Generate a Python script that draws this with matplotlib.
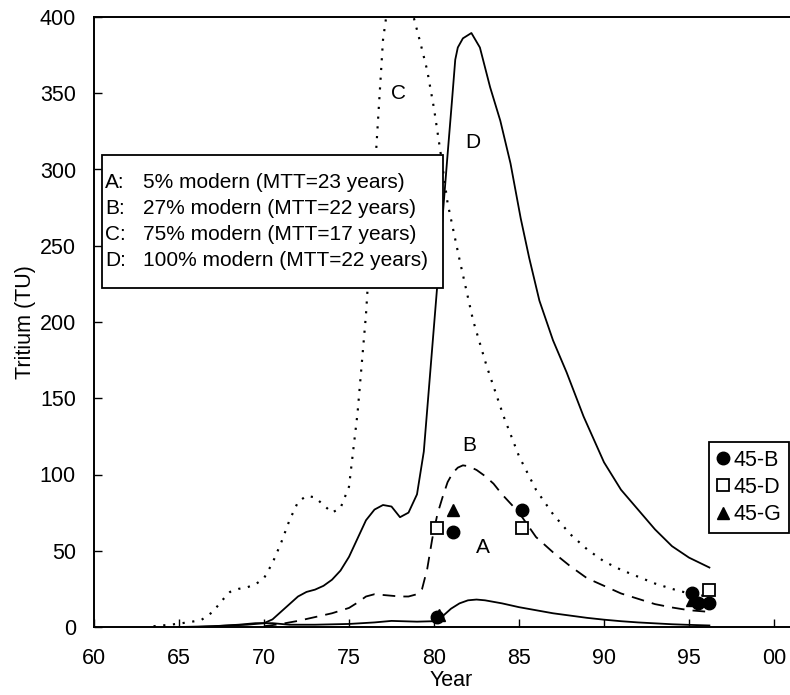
import matplotlib
matplotlib.use("Agg")
import matplotlib.pyplot as plt
from matplotlib.lines import Line2D
from matplotlib.patches import Rectangle

plt.rcParams['font.family'] = ['Liberation Sans', 'DejaVu Sans']

# Curve A: 5% modern (MTT=23 years)
a_years = [65, 67, 68.5, 69.5, 70.5, 71.5, 73, 75, 76.5, 77.5, 79, 80, 80.5, 81, 81.5, 82, 82.5,
           83, 84, 85, 86, 87, 88, 89, 90, 91, 92, 93, 94, 95, 96.2]
a_vals = [0, 0.5, 1.5, 2.5, 2.5, 1.5, 1.5, 2, 3, 4, 3.5, 3.8, 7, 12, 15.5, 17.5, 18,
          17.5, 15.5, 13, 11, 9, 7.5, 6, 4.8, 3.8, 3, 2.4, 1.8, 1.4, 1]

# Curve B: 27% modern (MTT=22 years)
b_years = [70, 71, 72, 73, 74, 75, 75.5, 76, 76.5, 77, 77.5, 78, 78.5, 79, 79.3, 79.6, 79.9,
           80.2, 80.5, 80.8, 81.1, 81.4, 81.7, 82, 82.5, 83, 83.5, 84, 84.5, 85, 86, 87, 88,
           89, 90, 91, 92, 93, 94, 95, 96.1]
b_vals = [0.5, 2, 4, 6.5, 9, 12.5, 16, 20, 21.5, 21, 20.5, 20, 20, 21.5, 25, 38, 58,
          74, 85, 95, 101, 104.5, 106, 105.5, 103, 99, 94, 87, 81, 75, 59, 49, 40,
          32, 27, 22, 18.5, 15, 12.8, 11, 10]

# Curve C: 75% modern (MTT=17 years)
c_years = [63.5, 64.5, 65.5, 66.3, 67, 67.5, 68, 68.5, 69, 69.5, 70, 70.5, 71, 71.5, 72, 72.5,
           73, 73.5, 74, 74.5, 75, 75.5, 76, 76.5, 77, 77.5, 78, 78.5, 78.8, 79.2, 79.6, 80,
           80.4, 80.8, 81.5, 82.3, 83.1, 84.1, 85, 86, 87, 88, 89, 90, 91, 92, 93, 94, 95, 96.1]
c_vals = [0.5, 1.5, 3, 4.5, 10, 17, 23, 25, 26, 28, 32, 42, 55, 70, 82, 86,
          85, 80, 75, 78, 92, 140, 205, 295, 385, 425, 437, 420, 400, 383, 365, 340,
          310, 278, 241, 201, 171, 138, 112, 90, 74, 61, 51, 43, 37.5, 33, 28.5, 25, 22, 20]

# Curve D: 100% modern (MTT=22 years)
d_years = [66, 68, 69, 70, 70.5, 71, 71.5, 72, 72.5, 73, 73.5, 74, 74.5, 75, 75.5, 76, 76.5,
           77, 77.5, 78, 78.5, 79, 79.4, 79.8, 80.2, 80.6, 80.8, 81.05, 81.25, 81.4, 81.7, 82.2,
           82.7, 83.3, 83.9, 84.5, 85.1, 85.6, 86.2, 87, 87.8, 88.8, 90, 91, 92, 93, 94, 95, 96.2]
d_vals = [0, 1, 1.5, 2.5, 5, 10, 15, 20, 23, 24.5, 27, 31, 37, 46, 58, 70, 77,
          80, 79, 72, 75, 87, 115, 170, 225, 282, 310, 344, 372, 380, 386, 389.5,
          380, 354, 332, 304, 268, 242, 214, 188, 167, 138, 108, 90, 77, 64, 53, 45.5, 39]

# Measured samples
b45_years = [80.2, 81.1, 85.2, 95.2, 95.5, 96.2]
b45_vals = [6.8, 62, 77, 22, 16, 16]
d45_years = [80.2, 85.2, 96.2]
d45_vals = [65, 65, 24]
g45_years = [80.3, 81.1, 95.2]
g45_vals = [8, 77, 18]

legend_letters = ["A:", "B:", "C:", "D:"]
legend_texts = ["5% modern (MTT=23 years)", "27% modern (MTT=22 years)",
                "75% modern (MTT=17 years)", "100% modern (MTT=22 years)"]
x_ticks = [60, 65, 70, 75, 80, 85, 90, 95, 100]
x_ticklabels = ["60", "65", "70", "75", "80", "85", "90", "95", "00"]
y_ticks = [0, 50, 100, 150, 200, 250, 300, 350, 400]

W, H = 790, 695
fig = plt.figure(figsize=(W / 100, H / 100), dpi=100)
ax = fig.add_axes([94 / W, (H - 627) / H, (808 - 94) / W, (627 - 17) / H])
ax.set_xlim(60, 102)
ax.set_ylim(0, 400)

lw = 1.3
ax.plot(a_years, a_vals, color='black', lw=lw)
ax.plot(b_years, b_vals, color='black', lw=lw, linestyle=(0, (7, 4.5)))
ax.plot(c_years, c_vals, color='black', lw=lw * 1.2, linestyle=(0, (1, 3.5)))
ax.plot(d_years, d_vals, color='black', lw=lw)

ms = 9
ax.plot(b45_years, b45_vals, 'o', color='black', ms=ms, zorder=5)
ax.plot(d45_years, d45_vals, 's', mfc='white', mec='black', mew=1.3, ms=ms, zorder=6)
ax.plot(g45_years, g45_vals, '^', color='black', ms=ms, zorder=5)

# curve letters
lfs = 15
ax.text(77.9, 350, "C", fontsize=lfs, ha='center', va='center')
ax.text(82.3, 318, "D", fontsize=lfs, ha='center', va='center')
ax.text(82.1, 119, "B", fontsize=lfs, ha='center', va='center')
ax.text(82.85, 52, "A", fontsize=lfs, ha='center', va='center')

# text legend box
fs = 15
rect = Rectangle((102 / W, (H - 288) / H), (443 - 102) / W, (288 - 155) / H,
                 transform=fig.transFigure, facecolor='white', edgecolor='black', lw=1.3, zorder=7)
fig.add_artist(rect)
row_y = [183, 208, 234, 260]
for letter, txt, yy in zip(legend_letters, legend_texts, row_y):
    fig.text(105 / W, (H - yy) / H, letter, fontsize=fs, va='center', ha='left', zorder=8)
    fig.text(143 / W, (H - yy) / H, txt, fontsize=fs, va='center', ha='left', zorder=8)

# marker legend
handles = [Line2D([], [], marker='o', color='black', ls='none', ms=ms),
           Line2D([], [], marker='s', mfc='white', mec='black', mew=1.3, ls='none', ms=ms),
           Line2D([], [], marker='^', color='black', ls='none', ms=ms)]
leg = fig.legend(handles, ["45-B", "45-D", "45-G"], loc='upper left',
                 bbox_to_anchor=(709 / W, (H - 442) / H), fontsize=15.5,
                 frameon=True, fancybox=False, edgecolor='black', framealpha=1,
                 handlelength=0.6, handletextpad=0.2, borderpad=0.35, labelspacing=0.3,
                 borderaxespad=0)
leg.get_frame().set_linewidth(1.3)

ax.set_xticks(x_ticks)
ax.set_xticklabels(x_ticklabels)
ax.set_yticks(y_ticks)
ax.tick_params(direction='in', length=6, width=1, labelsize=15.5)
ax.tick_params(axis='x', pad=15)
ax.tick_params(axis='y', pad=13)
for s in ax.spines.values():
    s.set_linewidth(1.4)
ax.spines['right'].set_visible(False)

ax.set_xlabel("Year", fontsize=15.5, labelpad=1)
ax.set_ylabel("Tritium (TU)", fontsize=15.5, labelpad=3)

fig.savefig("out.png", dpi=100)
